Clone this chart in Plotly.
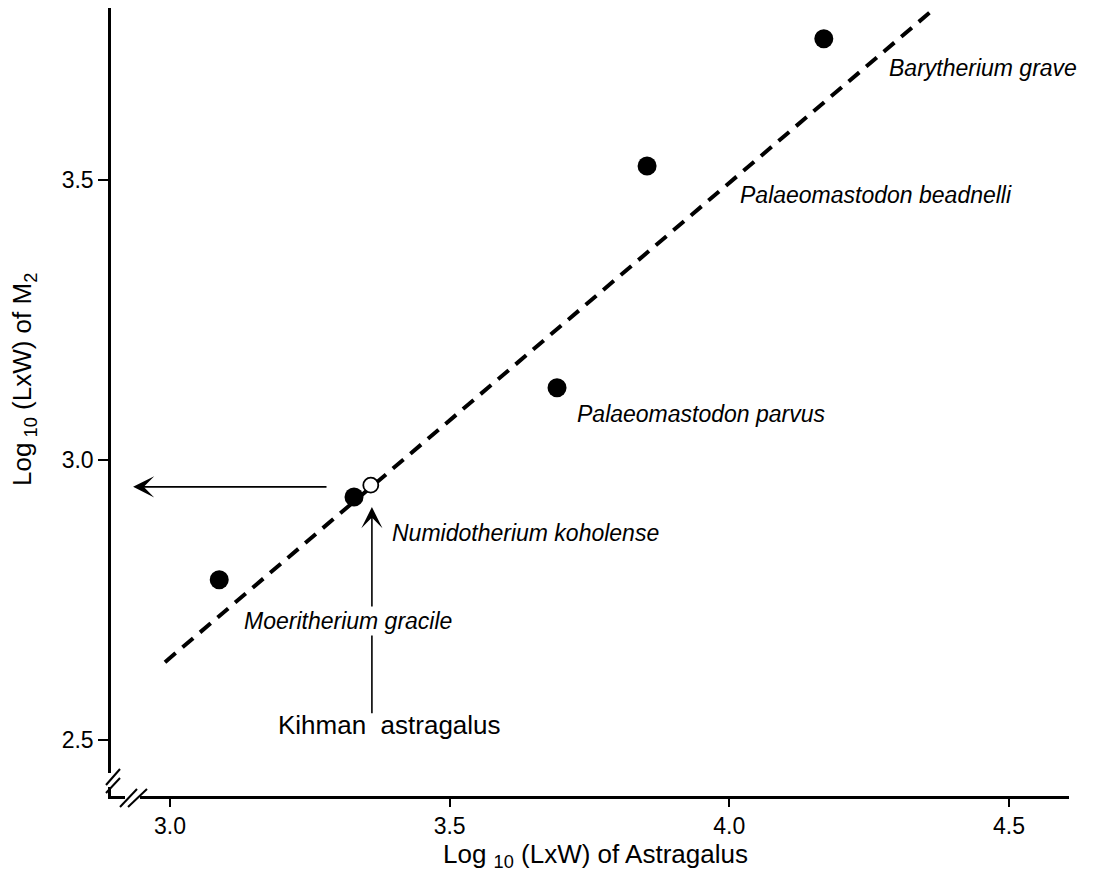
import plotly.graph_objects as go

# ---- data ----
species = ["Moeritherium gracile", "Numidotherium koholense", "Palaeomastodon parvus",
           "Palaeomastodon beadnelli", "Barytherium grave"]
astragalus_log = [3.088, 3.329, 3.692, 3.853, 4.169]
m2_log = [2.786, 2.934, 3.129, 3.525, 3.752]

kihman_x = [3.359]
kihman_y = [2.955]

fit_x = [2.991, 4.368]
fit_y = [2.639, 3.807]

label_x = [3.129, 3.393, 3.724, 4.016, 4.282]
label_y = [2.7125, 2.870, 3.082, 3.473, 3.700]

kihman_label = "Kihman&nbsp; astragalus"
kihman_label_pos = (3.392, 2.527)

# arrows: (tip_x, tip_y, tail_x, tail_y)
arrow_left = (2.934, 2.952, 3.2825, 2.952)
arrow_up = (3.361, 2.916, 3.361, 2.545)

x_ticks = [3.0, 3.5, 4.0, 4.5]
y_ticks = [2.5, 3.0, 3.5]
x_range = [2.8945, 4.6074]
y_range = [2.4, 3.807]

x_title = "Log <sub>10</sub> (LxW) of Astragalus"
y_title = "Log<sub> 10</sub> (LxW) of M<sub>2</sub>"
x_title_pos = 3.76
y_title_pos = 3.143

FONT = "Liberation Sans, Arial, Helvetica, sans-serif"

fig = go.Figure()

fig.add_trace(go.Scatter(
    x=fit_x, y=fit_y, mode="lines",
    line=dict(color="black", width=4, dash="14px,9px"),
    hoverinfo="skip", showlegend=False))

fig.add_trace(go.Scatter(
    x=astragalus_log, y=m2_log, mode="markers",
    marker=dict(size=19, color="black", line=dict(width=0)),
    text=species, showlegend=False))

fig.add_trace(go.Scatter(
    x=kihman_x, y=kihman_y, mode="markers",
    marker=dict(size=15, color="white", line=dict(width=1.8, color="black")),
    showlegend=False))

annotations = []
for tip_x, tip_y, tail_x, tail_y in [arrow_left, arrow_up]:
    annotations.append(dict(
        x=tip_x, y=tip_y, ax=tail_x, ay=tail_y, xref="x", yref="y",
        axref="x", ayref="y", text="", showarrow=True,
        arrowhead=3, arrowsize=2.2, arrowwidth=1.6, arrowcolor="black"))

for name, lx, ly in zip(species, label_x, label_y):
    annotations.append(dict(
        x=lx, y=ly, xref="x", yref="y", text=f"<i>{name}</i>",
        showarrow=False, xanchor="left", yanchor="middle",
        bgcolor="white", borderpad=1,
        font=dict(family=FONT, size=23, color="black")))

annotations.append(dict(
    x=kihman_label_pos[0], y=kihman_label_pos[1], xref="x", yref="y",
    text=kihman_label, showarrow=False, xanchor="center", yanchor="middle",
    font=dict(family=FONT, size=26, color="black")))

annotations.append(dict(
    x=x_title_pos, y=0, xref="x", yref="paper", yshift=-59,
    text=x_title, showarrow=False, xanchor="center", yanchor="middle",
    font=dict(family=FONT, size=26, color="black")))

annotations.append(dict(
    x=0, y=y_title_pos, xref="paper", yref="y", xshift=-87, textangle=-90,
    text=y_title, showarrow=False, xanchor="center", yanchor="middle",
    font=dict(family=FONT, size=26, color="black")))

# axis breaks (white gaps + slashes), in pixels from the lower-left corner
shapes = [
    dict(type="rect", xref="paper", yref="paper", xsizemode="pixel", ysizemode="pixel",
         xanchor=0, yanchor=0, x0=-3, x1=3, y0=9, y1=23,
         fillcolor="white", line=dict(width=0), layer="above"),
    dict(type="rect", xref="paper", yref="paper", xsizemode="pixel", ysizemode="pixel",
         xanchor=0, yanchor=0, x0=14, x1=29, y0=-3, y1=3,
         fillcolor="white", line=dict(width=0), layer="above"),
]
for (x0, y0, x1, y1) in [(-5, 11, 9, 27), (-5, 3, 9, 18), (9, -11, 26, 7), (17, -11, 36, 7)]:
    shapes.append(dict(type="line", xref="paper", yref="paper", xsizemode="pixel",
                       ysizemode="pixel", xanchor=0, yanchor=0,
                       x0=x0, y0=y0, x1=x1, y1=y1,
                       line=dict(color="black", width=2), layer="above"))

fig.update_layout(
    width=1096, height=879,
    margin=dict(l=103, r=35, t=0, b=91),
    plot_bgcolor="white", paper_bgcolor="white",
    font=dict(family=FONT, color="black", size=23),
    annotations=annotations, shapes=shapes,
    showlegend=False,
)

fig.update_xaxes(
    range=x_range, tickvals=x_ticks, ticktext=[f"{v:.1f}" for v in x_ticks],
    showline=True, linecolor="black", linewidth=2.5,
    ticks="outside", ticklen=8, tickwidth=2, tickcolor="black",
    showgrid=False, zeroline=False,
    tickfont=dict(family=FONT, size=23),
)
fig.update_yaxes(
    range=y_range, tickvals=y_ticks, ticktext=[f"{v:.1f}" for v in y_ticks],
    showline=True, linecolor="black", linewidth=2.5,
    ticks="outside", ticklen=10, tickwidth=2, tickcolor="black",
    showgrid=False, zeroline=False,
    tickfont=dict(family=FONT, size=23),
)

fig.write_html("out.html")
